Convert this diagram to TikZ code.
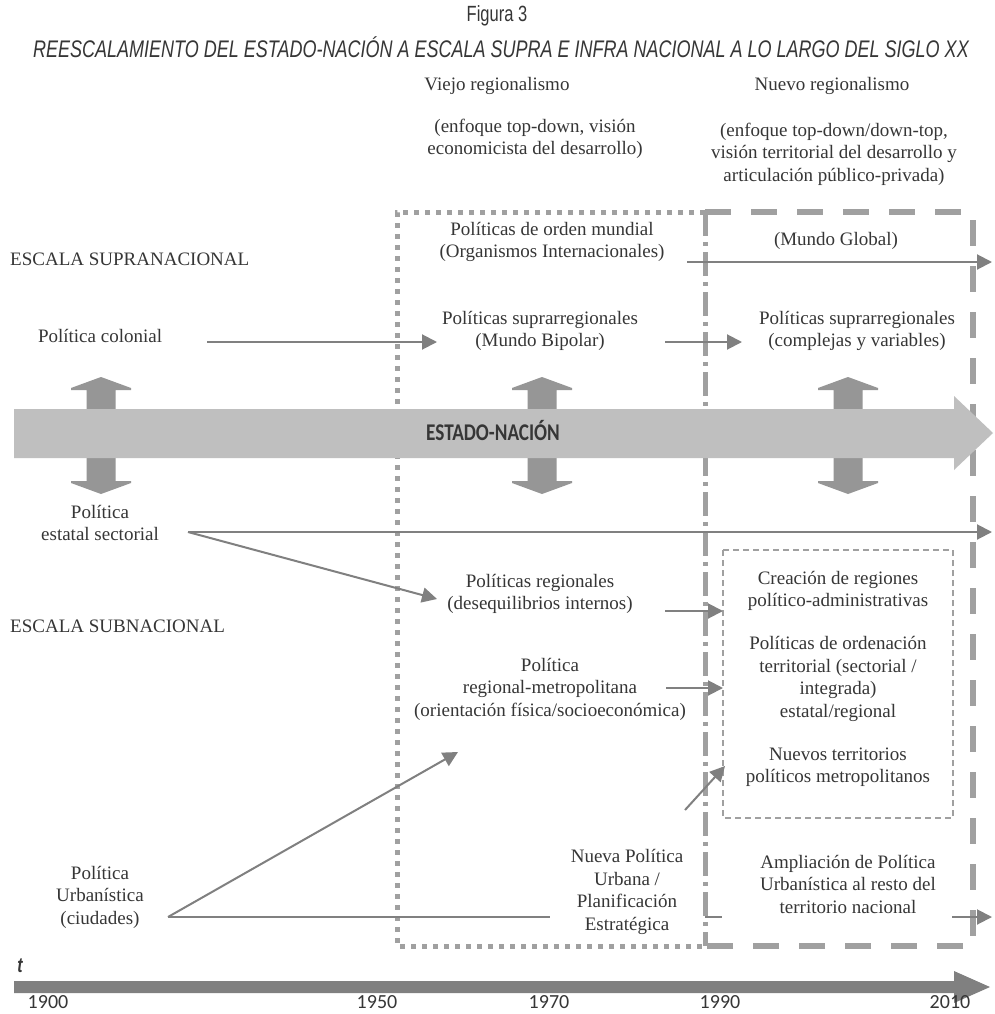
\documentclass[tikz,border=0pt]{standalone}
\usepackage{fontspec}
\setmainfont{Liberation Serif}
\newfontfamily\headfont[FakeStretch=0.75]{Liberation Sans}
\newfontfamily\bandfont[FakeStretch=0.8]{Carlito}
\newfontfamily\yearfont{Carlito}
\usetikzlibrary{arrows.meta}

\definecolor{ink}{HTML}{363636}
\definecolor{arrowgray}{HTML}{808080}
\definecolor{bandgray}{HTML}{BFBFBF}
\definecolor{pillargray}{HTML}{969696}
\definecolor{framegray}{HTML}{A0A0A0}

\tikzset{
  lbl/.style={font=\fontsize{19}{22.5}\selectfont, text=ink, align=center, inner sep=0pt},
  flow/.style={draw=arrowgray, line width=2pt, -{Triangle[length=15pt,width=15pt]}},
  flowline/.style={draw=arrowgray, line width=2pt},
  oldframe/.style={draw=framegray, line width=5pt, dash pattern=on 5pt off 6pt},
  newframe/.style={draw=framegray, line width=6pt, dash pattern=on 26pt off 20pt},
  splitline/.style={draw=framegray, line width=5pt, dash pattern=on 24pt off 6pt on 4pt off 6pt},
  innerframe/.style={draw=framegray, line width=1.2pt, dash pattern=on 6pt off 4pt},
  yearlbl/.style={font=\yearfont\fontsize{20}{24}\selectfont, text=ink, inner sep=0pt},
  pillar/.pic={
    \fill[pillargray] (-14.5,415) -- (-14.5,390) -- (-30,390) -- (-30,388) -- (0,377)
      -- (30,388) -- (30,390) -- (14.5,390) -- (14.5,415) -- cycle;
    \fill[pillargray] (-14.5,452) -- (-14.5,481) -- (-30,481) -- (-30,483) -- (0,494)
      -- (30,483) -- (30,481) -- (14.5,481) -- (14.5,452) -- cycle;
  }
}

\begin{document}
\begin{tikzpicture}[x=1pt,y=-1pt]
\useasboundingbox (0,0) rectangle (994,1014);
\fill[white] (0,0) rectangle (994,1014);

% period frames
\draw[oldframe] (705,212) -- (397,212) -- (397,946) -- (705,946);
\draw[newframe] (705,212) -- (973,212) -- (973,946) -- (705,946);
\draw[splitline] (705,212) -- (705,946);
\draw[innerframe] (723,550) rectangle (953,818);

% vertical exchanges with the nation state
\pic at (101,0) {pillar};
\pic at (542,0) {pillar};
\pic at (848,0) {pillar};

% nation-state band
\fill[bandgray] (14,409) -- (954,409) -- (954,396) -- (993,433) -- (954,470) -- (954,458) -- (14,458) -- cycle;
\node[font=\bandfont\bfseries\fontsize{24}{28}\selectfont, text=ink, inner sep=0pt] (estado) at (493,430) {ESTADO-NACIÓN};

% time axis
\fill[arrowgray] (14,981) -- (954,981) -- (954,971) -- (990,987) -- (954,1003) -- (954,993) -- (14,993) -- cycle;
\node[font=\headfont\bfseries\itshape\fontsize{21}{24}\selectfont, text=ink, inner sep=0pt] (tlabel) at (20,966) {t};
\node[yearlbl] (y1900) at (48,1002) {1900};
\node[yearlbl] (y1950) at (377,1002) {1950};
\node[yearlbl] (y1970) at (549,1002) {1970};
\node[yearlbl] (y1990) at (720,1002) {1990};
\node[yearlbl] (y2010) at (950,1002) {2010};

% headings
\node[font=\headfont\fontsize{22}{26}\selectfont, text=ink, inner sep=0pt] (fig) at (497,16) {Figura 3};
\node[font=\headfont\itshape\fontsize{24}{28}\selectfont, text=ink, inner sep=0pt] (title) at (501,47)
  {REESCALAMIENTO DEL ESTADO-NACIÓN A ESCALA SUPRA E INFRA NACIONAL A LO LARGO DEL SIGLO XX};
\node[lbl] (viejo) at (497,86) {Viejo regionalismo};
\node[lbl] (nuevo) at (832,86) {Nuevo regionalismo};
\node[lbl] (viejonote) at (535,139) {(enfoque top-down, visión\\economicista del desarrollo)};
\node[lbl] (nuevonote) at (834,154) {(enfoque top-down/down-top,\\visión territorial del desarrollo y\\articulación público-privada)};

% scale labels
\node[lbl, anchor=west] (supra) at (10,259) {ESCALA SUPRANACIONAL};
\node[lbl, anchor=west] (subna) at (10,626) {ESCALA SUBNACIONAL};

% policies
\node[lbl] (orden) at (552,242) {Políticas de orden mundial\\(Organismos Internacionales)};
\node[lbl] (global) at (836,241) {(Mundo Global)};
\node[lbl] (colonial) at (100,336) {Política colonial};
\node[lbl] (bipolar) at (540,331) {Políticas suprarregionales\\(Mundo Bipolar)};
\node[lbl] (complejas) at (857,331) {Políticas suprarregionales\\(complejas y variables)};
\node[lbl] (sectorial) at (100,523) {Política\\estatal sectorial};
\node[lbl] (regionales) at (540,594) {Políticas regionales\\(desequilibrios internos)};
\node[lbl] (creacion) at (838,591) {Creación de regiones\\político-administrativas};
\node[lbl] (ordenacion) at (838,679) {Políticas de ordenación\\territorial (sectorial /\\integrada)\\estatal/regional};
\node[lbl] (nuevos) at (838,767) {Nuevos territorios\\políticos metropolitanos};
\node[lbl] (metro) at (550,689) {Política\\regional-metropolitana\\(orientación física/socioeconómica)};
\node[lbl] (urbanistica) at (100,897) {Política\\Urbanística\\(ciudades)};
\node[lbl] (nuevaurb) at (627,892) {Nueva Política\\Urbana /\\Planificación\\Estratégica};
\node[lbl] (ampliacion) at (848,884) {Ampliación de Política\\Urbanística al resto del\\territorio nacional};

% connector end points
\coordinate (colA) at (207,342);   \coordinate (colB) at (437,342);
\coordinate (bipA) at (665,342);   \coordinate (bipB) at (742,342);
\coordinate (ordA) at (687,262);   \coordinate (ordB) at (992,262);
\coordinate (secA) at (188,532);   \coordinate (secB) at (992,532);
\coordinate (secC) at (437,599);
\coordinate (regA) at (665,611);   \coordinate (regB) at (723,611);
\coordinate (metA) at (666,688);   \coordinate (metB) at (723,688);
\coordinate (urbA) at (168,917);   \coordinate (urbB) at (458,752);
\coordinate (urbC) at (550,917);
\coordinate (nurA) at (685,810);   \coordinate (nurB) at (725,766);
\coordinate (nurC) at (705,917);   \coordinate (nurD) at (722,917);
\coordinate (ampA) at (952,917);   \coordinate (ampB) at (992,917);

% connectors
\draw[flow] (colA) -- (colB);
\draw[flow] (bipA) -- (bipB);
\draw[flow] (ordA) -- (ordB);
\draw[flow] (secA) -- (secB);
\draw[flow] (secA) -- (secC);
\draw[flow] (regA) -- (regB);
\draw[flow] (metA) -- (metB);
\draw[flow] (urbA) -- (urbB);
\draw[flowline] (urbA) -- (urbC);
\draw[flow] (nurA) -- (nurB);
\draw[flowline] (nurC) -- (nurD);
\draw[flow] (ampA) -- (ampB);
\end{tikzpicture}
\end{document}
